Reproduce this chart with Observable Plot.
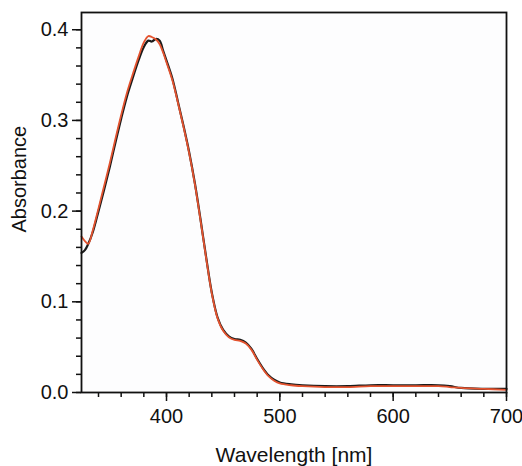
<!DOCTYPE html>
<html>
<head>
<meta charset="utf-8">
<script src="https://cdn.jsdelivr.net/npm/d3@7"></script>
<script src="https://cdn.jsdelivr.net/npm/@observablehq/plot@0.6"></script>
<style>
  html, body { margin: 0; padding: 0; background: #fff; }
  #chart svg { display: block; }
</style>
</head>
<body>
<div id="chart"></div>
<script>
// Wavelengths (nm)
const wavelengths = [325, 328, 331, 335, 340, 345, 350, 355, 360, 365, 370, 375, 380, 384, 387, 391, 394, 397, 400, 405, 410, 415, 420, 425, 430, 435, 440, 445, 450, 455, 460, 465, 470, 475, 480, 485, 490, 495, 500, 510, 520, 540, 560, 580, 600, 620, 640, 650, 660, 680, 700];
// Black spectrum
const absBlack = [0.154, 0.157, 0.164, 0.177, 0.200, 0.224, 0.249, 0.276, 0.302, 0.326, 0.346, 0.365, 0.381, 0.388, 0.387, 0.390, 0.388, 0.377, 0.366, 0.347, 0.321, 0.294, 0.265, 0.231, 0.191, 0.149, 0.110, 0.083, 0.069, 0.062, 0.059, 0.058, 0.055, 0.048, 0.037, 0.027, 0.019, 0.014, 0.011, 0.009, 0.008, 0.007, 0.007, 0.008, 0.008, 0.008, 0.008, 0.007, 0.005, 0.004, 0.004];
// Red spectrum
const absRed = [0.172, 0.167, 0.164, 0.179, 0.203, 0.228, 0.253, 0.280, 0.306, 0.330, 0.350, 0.369, 0.386, 0.393, 0.392, 0.389, 0.384, 0.375, 0.364, 0.345, 0.320, 0.293, 0.264, 0.230, 0.190, 0.148, 0.109, 0.082, 0.068, 0.061, 0.058, 0.057, 0.054, 0.047, 0.036, 0.026, 0.018, 0.013, 0.010, 0.008, 0.007, 0.006, 0.006, 0.007, 0.007, 0.007, 0.007, 0.006, 0.005, 0.004, 0.003];

const xMajor = [400, 500, 600, 700];
const xMinor = d3.range(340, 701, 20);
const yMajor = [0.0, 0.1, 0.2, 0.3, 0.4];
const yMinor = d3.range(0, 0.41, 0.02);

const black = wavelengths.map((w, i) => ({w, a: absBlack[i]}));
const red = wavelengths.map((w, i) => ({w, a: absRed[i]}));

const chart = Plot.plot({
  width: 522,
  height: 466,
  marginLeft: 81,
  marginRight: 16,
  marginTop: 12,
  marginBottom: 74,
  style: {fontFamily: "'Liberation Sans', Arial, sans-serif", color: "#111", background: "#fff"},
  x: {domain: [325, 700]},
  y: {domain: [0, 0.419]},
  marks: [
    Plot.frame({fill: "#fdfdfe"}),
    Plot.axisX({ticks: xMinor, tickSize: 5, text: null, label: null, strokeWidth: 1.5}),
    Plot.axisX({ticks: xMajor, tickSize: 9, tickPadding: 7, fontSize: 20, tickFormat: d => String(d), strokeWidth: 1.5, label: null}),
    Plot.axisX({ticks: [], tickSize: 0, text: null, label: "Wavelength [nm]", labelAnchor: "center", labelArrow: "none", labelOffset: 69, fontSize: 21}),
    Plot.axisY({ticks: yMinor, tickSize: 5, text: null, label: null, strokeWidth: 1.5}),
    Plot.axisY({ticks: yMajor, tickSize: 9, tickPadding: 4, fontSize: 20, tickFormat: d3.format(".1f"), strokeWidth: 1.5, label: null}),
    Plot.text(["Absorbance"], {frameAnchor: "left", rotate: -90, dx: -62, dy: 30, fontSize: 20, lineAnchor: "middle", fill: "#111"}),
    Plot.line(black, {x: "w", y: "a", stroke: "#1a1a1a", strokeWidth: 2.2, curve: "catmull-rom"}),
    Plot.line(red, {x: "w", y: "a", stroke: "#e4532f", strokeWidth: 1.8, curve: "catmull-rom"}),
    Plot.frame({stroke: "#111", strokeWidth: 1.8})
  ]
});
document.getElementById("chart").appendChild(chart);
</script>
</body>
</html>
